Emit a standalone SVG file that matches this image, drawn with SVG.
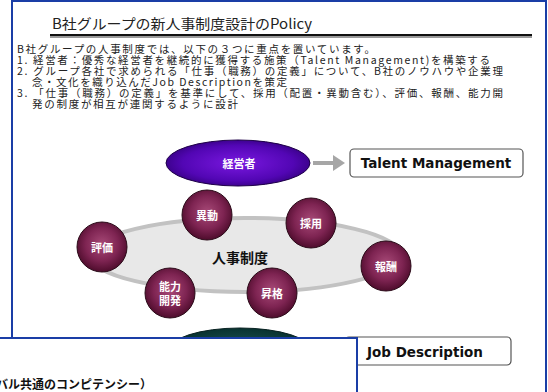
<svg xmlns="http://www.w3.org/2000/svg" width="548" height="392" viewBox="0 0 548 392">
<defs>
<radialGradient id="gMaroon" cx="50%" cy="45%" r="55%">
<stop offset="0" stop-color="#a84a78"/>
<stop offset="0.6" stop-color="#7e2452"/>
<stop offset="1" stop-color="#4e0c2c"/>
</radialGradient>
<radialGradient id="gPurple" cx="50%" cy="50%" r="55%">
<stop offset="0" stop-color="#7a18e0"/>
<stop offset="0.7" stop-color="#5206b4"/>
<stop offset="1" stop-color="#34007e"/>
</radialGradient>
<radialGradient id="gTeal" cx="50%" cy="50%" r="55%">
<stop offset="0" stop-color="#1f5a58"/>
<stop offset="1" stop-color="#062e2c"/>
</radialGradient>
<marker id="arr" markerWidth="4" markerHeight="4" refX="1" refY="2" orient="auto" markerUnits="strokeWidth">
<path d="M0,0 L3,2 L0,4 Z" fill="#a6a6a6"/>
</marker>
</defs>
<style>
.jp{font-family:"Noto Sans CJK JP","DejaVu Sans",sans-serif;fill:#222;font-size:10.5px}
.ttl{font-family:"Noto Sans CJK JP","DejaVu Sans",sans-serif;fill:#222;font-size:14px}
.lbl{font-family:"Noto Sans CJK JP",sans-serif;font-weight:bold;fill:#fff;font-size:11px;text-anchor:middle;dominant-baseline:central}
.circ{fill:url(#gMaroon);stroke:#2a0a18;stroke-width:1}
.box{fill:#fff;stroke:#555;stroke-width:1.2}
.btxt{font-family:"DejaVu Sans",sans-serif;font-weight:bold;fill:#111;font-size:13.5px;dominant-baseline:central}
.frame{fill:#fff;stroke:#1a3ea6;stroke-width:2}
</style>
<rect width="548" height="392" fill="#fff"/>
<rect class="frame" x="12" y="1" width="534" height="420"/>
<g id="title">
<text class="ttl" x="52" y="29" textLength="260" lengthAdjust="spacingAndGlyphs">B社グループの新人事制度設計のPolicy</text>
<rect x="50" y="34" width="482" height="2" fill="#111"/>
<rect x="50" y="36" width="482" height="2" fill="#9a9a9a"/>
</g>
<g id="body">
<text class="jp" x="17" y="53" textLength="358" lengthAdjust="spacing">B社グループの人事制度では、以下の３つに重点を置いています。</text>
<text class="jp" x="17" y="64" textLength="473" lengthAdjust="spacing">1.  経営者：優秀な経営者を継続的に獲得する施策（Talent Management)を構築する</text>
<text class="jp" x="17" y="75" textLength="486" lengthAdjust="spacing">2.  グループ各社で求められる「仕事（職務）の定義」について、B社のノウハウや企業理</text>
<text class="jp" x="32" y="86" textLength="255" lengthAdjust="spacing">念・文化を織り込んだJob Descriptionを策定</text>
<text class="jp" x="17" y="97" textLength="486" lengthAdjust="spacing">3.  「仕事（職務）の定義」を基準にして、採用（配置・異動含む）、評価、報酬、能力開</text>
<text class="jp" x="32" y="108" textLength="206" lengthAdjust="spacing">発の制度が相互が連関するように設計</text>
</g>
<g id="jinji">
<ellipse cx="245" cy="255" rx="155" ry="37" fill="#e8e8e8" stroke="#c2c2c2" stroke-width="4"/>
<text x="240" y="257" font-family="'Noto Sans CJK JP',sans-serif" font-weight="bold" font-size="14" fill="#111" text-anchor="middle" dominant-baseline="central">人事制度</text>
</g>
<g id="connectors">
<line x1="313" y1="163" x2="337" y2="163" stroke="#a6a6a6" stroke-width="4" marker-end="url(#arr)"/>
</g>
<g id="keieisha">
<ellipse cx="238" cy="163" rx="72" ry="23" fill="url(#gPurple)" stroke="#1e0048" stroke-width="1"/>
<text class="lbl" x="239" y="163">経営者</text>
</g>
<g id="talent">
<rect class="box" x="350" y="149" width="173" height="28" rx="4"/>
<text class="btxt" x="436" y="163" text-anchor="middle">Talent Management</text>
</g>
<g id="idou"><circle class="circ" cx="207" cy="215" r="25"/><text class="lbl" x="207" y="215">異動</text></g>
<g id="saiyou"><circle class="circ" cx="311" cy="223" r="25"/><text class="lbl" x="311" y="223">採用</text></g>
<g id="hyouka"><circle class="circ" cx="102" cy="247" r="25"/><text class="lbl" x="102" y="247">評価</text></g>
<g id="houshu"><circle class="circ" cx="386" cy="266" r="25"/><text class="lbl" x="386" y="266">報酬</text></g>
<g id="nouryoku"><circle class="circ" cx="170" cy="293" r="25"/><text class="lbl" x="170" y="286">能力</text><text class="lbl" x="170" y="300">開発</text></g>
<g id="shoukaku"><circle class="circ" cx="272" cy="293" r="25"/><text class="lbl" x="272" y="293">昇格</text></g>
<g id="base"><ellipse cx="240" cy="351" rx="72" ry="23" fill="url(#gTeal)" stroke="#062020" stroke-width="1"/></g>
<g id="jobdesc">
<rect class="box" x="345" y="337" width="166" height="28" rx="4"/>
<text class="btxt" x="367" y="352">Job Description</text>
</g>
<g id="window">
<rect class="frame" x="-10" y="338" width="367" height="80"/>
<text x="152" y="383" font-family="'Noto Sans CJK JP',sans-serif" font-weight="bold" font-size="12" fill="#111" text-anchor="end" dominant-baseline="central">バル共通のコンピテンシー）</text>
</g>
</svg>
